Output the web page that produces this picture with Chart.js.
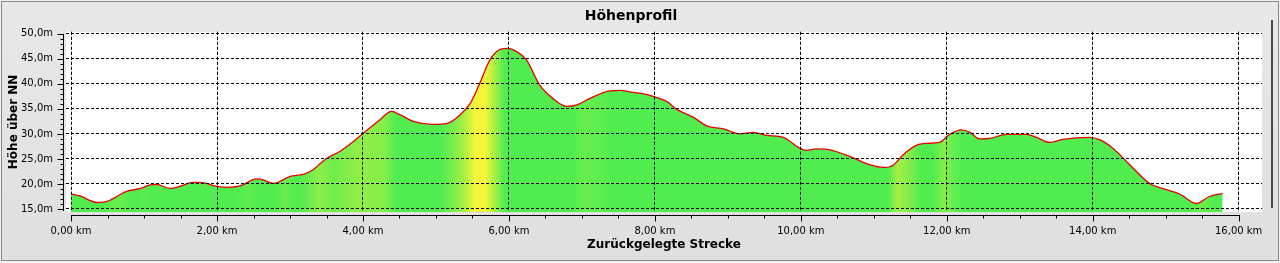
<!DOCTYPE html>
<html>
<head>
<meta charset="utf-8">
<title>Höhenprofil</title>
<script src="https://cdn.jsdelivr.net/npm/chart.js@4/dist/chart.umd.min.js"></script>
<style>
body { margin: 0; background: #f2f2f2; }
#frame { position: absolute; left: 1px; top: 1px; width: 1276px; height: 258px;
  border: 1px solid #888; background: linear-gradient(#e8e8e8, #dfdfdf); }
#wrap { position: absolute; left: 0; top: 0; width: 1280px; height: 263px; }
#splitter { position: absolute; left: 1271px; top: 20px; width: 2px; height: 188px; background: #4a4a4a; }
</style>
</head>
<body>
<div id="frame"></div>
<div id="splitter"></div>
<div id="wrap"><canvas id="chartProfile"></canvas></div>
<script>
// Streckenpunkte (km) und Hoehe (m ueber NN)
var distanceKm = [0, 0.12, 0.35, 0.49, 0.76, 0.95, 1.08, 1.17, 1.36, 1.49,
	1.67, 1.77, 2.0, 2.13, 2.32, 2.54, 2.63, 2.77, 2.86, 3.0,
	3.18, 3.32, 3.5, 3.68, 3.87, 4.0, 4.23, 4.39, 4.51, 4.69,
	4.96, 5.15, 5.33, 5.47, 5.6, 5.74, 5.88, 5.99, 6.1, 6.24,
	6.42, 6.6, 6.79, 6.93, 7.11, 7.38, 7.52, 7.7, 7.88, 8.02,
	8.16, 8.3, 8.53, 8.71, 8.94, 9.16, 9.35, 9.53, 9.76, 9.99,
	10.08, 10.21, 10.4, 10.67, 10.95, 11.13, 11.26, 11.4, 11.58, 11.72,
	11.9, 12.04, 12.2, 12.32, 12.45, 12.59, 12.82, 13.09, 13.23, 13.41,
	13.59, 13.96, 14.1, 14.28, 14.51, 14.78, 14.96, 15.19, 15.42, 15.6,
	15.78];
var elevationM = [18.0, 17.6, 16.3, 16.5, 18.5, 19.1, 19.8, 19.9, 19.1, 19.5,
	20.3, 20.3, 19.5, 19.3, 19.6, 21.0, 20.8, 20.1, 20.5, 21.5,
	21.9, 22.9, 25.1, 26.5, 28.5, 30.1, 32.8, 34.5, 33.8, 32.5,
	31.9, 32.1, 33.8, 36.1, 40.1, 44.8, 46.9, 47.1, 46.5, 44.8,
	39.8, 37.1, 35.5, 35.8, 37.1, 38.6, 38.7, 38.3, 37.9, 37.3,
	36.5, 34.9, 33.3, 31.6, 31.0, 30.0, 30.3, 29.7, 29.3, 27.1,
	26.7, 27.0, 26.8, 25.5, 23.8, 23.3, 23.7, 25.8, 27.7, 28.1,
	28.3, 29.9, 30.8, 30.3, 29.0, 29.1, 29.9, 29.9, 29.3, 28.3,
	28.9, 29.3, 28.8, 27.1, 23.8, 20.1, 19.1, 18.0, 16.1, 17.5,
	18.1];
var xTicksKm = [0, 2, 4, 6, 8, 10, 12, 14, 16];
var yTicksM = [15, 20, 25, 30, 35, 40, 45, 50];

var green = [80, 236, 80];
var yellow = [246, 244, 58];

function mixColor(t) {
	var c = [];
	for (var k = 0; k < 3; k++) c.push(Math.round(green[k] + (yellow[k] - green[k]) * t));
	return 'rgb(' + c.join(',') + ')';
}

// Farbverlauf: je steiler bergauf, desto gelber
function fillGradient(context) {
	var chart = context.chart;
	if (!chart.chartArea) return mixColor(0);
	var xs = chart.scales.x;
	var n = distanceKm.length;
	var x0 = xs.getPixelForValue(distanceKm[0]);
	var x1 = xs.getPixelForValue(distanceKm[n - 1]);
	var g = chart.ctx.createLinearGradient(x0, 0, x1, 0);
	for (var i = 0; i < n - 1; i++) {
		var slope = (elevationM[i + 1] - elevationM[i]) / (distanceKm[i + 1] - distanceKm[i]);
		var t = Math.max(0, Math.min(1, (slope - 4) / 22));
		var pos = ((distanceKm[i] + distanceKm[i + 1]) / 2 - distanceKm[0]) / (distanceKm[n - 1] - distanceKm[0]);
		g.addColorStop(pos, mixColor(t));
	}
	return g;
}

var profilePlugin = {
	id: 'profilePlugin',
	beforeDraw: function(chart) {
		var a = chart.chartArea, ctx = chart.ctx;
		ctx.save();
		ctx.fillStyle = '#ffffff';
		ctx.fillRect(a.left, a.top, a.right - a.left, a.bottom - a.top);
		ctx.restore();
	},
	afterDatasetsDraw: function(chart) {
		// Gitter liegt ueber der Flaeche
		chart.scales.x.drawGrid(chart.chartArea);
		chart.scales.y.drawGrid(chart.chartArea);
	},
	afterDraw: function(chart) {
		var ctx = chart.ctx, a = chart.chartArea;
		var xs = chart.scales.x, ys = chart.scales.y;
		var axisX = Math.round(a.left) - 3 + 0.5;
		var axisY = Math.round(a.bottom) + 3 + 0.5;
		var v, p, len;
		ctx.save();
		ctx.strokeStyle = '#000';
		ctx.lineWidth = 1;
		ctx.beginPath();
		ctx.moveTo(axisX, Math.round(ys.getPixelForValue(yTicksM[yTicksM.length - 1])));
		ctx.lineTo(axisX, Math.round(ys.getPixelForValue(yTicksM[0])) + 2);
		for (v = yTicksM[0]; v <= yTicksM[yTicksM.length - 1]; v++) {
			p = Math.round(ys.getPixelForValue(v)) + 0.5;
			len = (v % 5 === 0) ? 6 : 3;
			ctx.moveTo(axisX - len, p);
			ctx.lineTo(axisX, p);
		}
		ctx.moveTo(Math.round(xs.getPixelForValue(xTicksKm[0])), axisY);
		ctx.lineTo(Math.round(xs.getPixelForValue(xTicksKm[xTicksKm.length - 1])) + 1, axisY);
		for (v = xTicksKm[0]; v <= xTicksKm[xTicksKm.length - 1]; v += 0.5) {
			p = Math.round(xs.getPixelForValue(v)) + 0.5;
			len = (v % 2 === 0) ? 6 : 3;
			ctx.moveTo(p, axisY);
			ctx.lineTo(p, axisY + len);
		}
		ctx.stroke();
		ctx.restore();
	}
};

var points = [];
for (var i in distanceKm) {
	points.push({x: distanceKm[i], y: elevationM[i]});
}

var ctx = document.getElementById('chartProfile').getContext('2d');
var profileChart = new Chart(ctx, {
	type: 'line',
	data: {
		datasets: [{
			label: 'Höhe',
			data: points,
			borderColor: '#e80000',
			borderWidth: 1.3,
			backgroundColor: fillGradient,
			fill: 'start',
			cubicInterpolationMode: 'monotone',
			pointRadius: 0
		}]
	},
	options: {
		responsive: true,
		maintainAspectRatio: false,
		animation: false,
		devicePixelRatio: 1,
		layout: { padding: { left: 0, right: 18, top: 0, bottom: 0 } },
		plugins: {
			legend: { display: false },
			tooltip: { enabled: false },
			title: {
				display: true,
				text: 'Höhenprofil',
				color: '#000',
				font: { family: 'DejaVu Sans', size: 14, weight: 'bold' },
				padding: { top: 8, bottom: 7 }
			}
		},
		scales: {
			x: {
				type: 'linear',
				min: -0.07,
				max: 16.32,
				afterBuildTicks: function(scale) {
					scale.ticks = xTicksKm.map(function(v) { return {value: v}; });
				},
				afterFit: function(scale) { scale.height = 51; },
				grid: { color: '#000', lineWidth: 1, drawTicks: false },
				border: { display: false, dash: [3, 2] },
				ticks: {
					padding: 13,
					maxRotation: 0,
					color: '#000',
					font: { family: 'DejaVu Sans', size: 10 },
					callback: function(v) { return v.toFixed(2).replace('.', ',') + ' km'; }
				},
				title: {
					display: true,
					text: 'Zurückgelegte Strecke',
					color: '#000',
					font: { family: 'DejaVu Sans', size: 12, weight: 'bold' },
					padding: { top: 0, bottom: 11 }
				}
			},
			y: {
				type: 'linear',
				min: 14.4,
				max: 50.4,
				afterBuildTicks: function(scale) {
					scale.ticks = yTicksM.map(function(v) { return {value: v}; });
				},
				afterFit: function(scale) { scale.width = 66; },
				grid: { color: '#000', lineWidth: 1, drawTicks: false },
				border: { display: false, dash: [3, 2] },
				ticks: {
					padding: 13,
					color: '#000',
					font: { family: 'DejaVu Sans', size: 10 },
					callback: function(v) { return v.toFixed(1).replace('.', ',') + 'm'; }
				},
				title: {
					display: true,
					text: 'Höhe über NN',
					color: '#000',
					font: { family: 'DejaVu Sans', size: 12, weight: 'bold' },
					padding: { top: 7, bottom: 0 }
				}
			}
		}
	},
	plugins: [profilePlugin]
});
</script>
</body>
</html>
